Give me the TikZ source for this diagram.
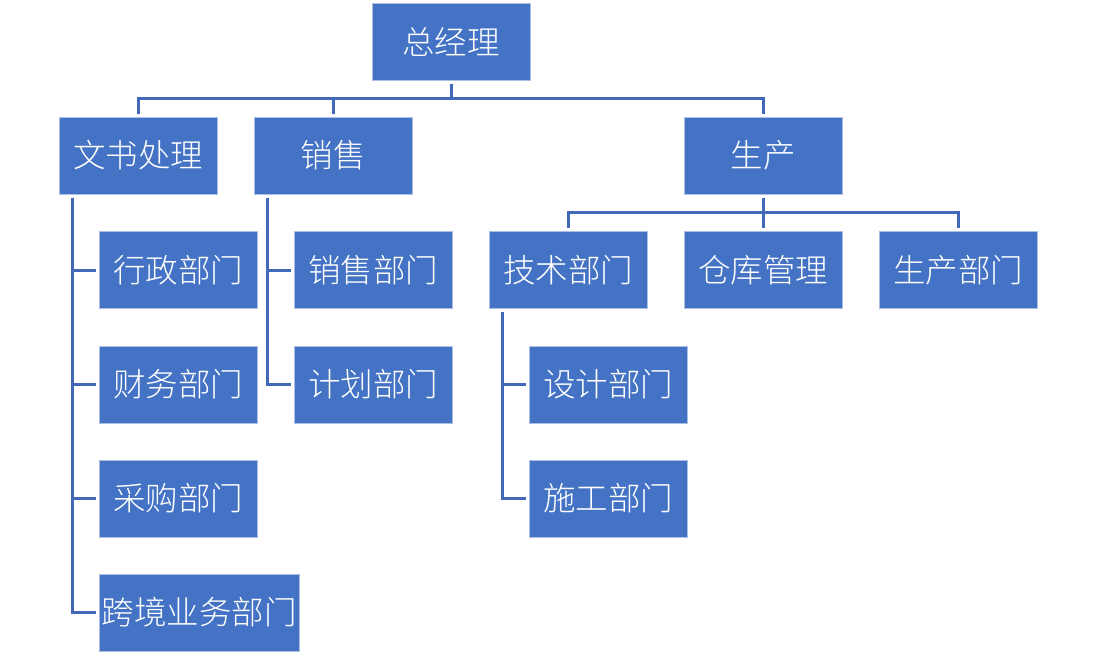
\documentclass[tikz,border=0pt]{standalone}
\usepackage{fontspec}
\newfontfamily\cjk{Noto Sans CJK SC Light}
\usetikzlibrary{calc}
\definecolor{boxblue}{HTML}{4472C4}
\definecolor{linkblue}{HTML}{4169B8}
\begin{document}
\begin{tikzpicture}[x=1pt,y=-1pt,
  box/.style={fill=boxblue,draw=white!55!boxblue,line width=1pt,minimum width=158pt,minimum height=77pt,inner sep=0pt,text=white,font=\cjk\fontsize{32.5}{38}\selectfont},
  conn/.style={draw=linkblue,line width=3pt,shorten <=3pt,shorten >=3pt}]
\useasboundingbox (0,0) rectangle (1096,656);
% level 0
\node[box] (zjl) at (451,41.5) {总经理};
% level 1
\node[box] (wszl) at (138,155.5) {文书处理};
\node[box] (xs) at (333,155.5) {销售};
\node[box] (sc) at (763,155.5) {生产};
% children of 文书处理
\node[box] (xz) at (178,270) {行政部门};
\node[box] (cw) at (178,384.5) {财务部门};
\node[box] (cg) at (178,498.5) {采购部门};
\node[box,minimum width=200pt] (kj) at (199,612.5) {跨境业务部门};
% children of 销售
\node[box] (xsbm) at (373,270) {销售部门};
\node[box] (jh) at (373,384.5) {计划部门};
% children of 生产
\node[box] (js) at (568,270) {技术部门};
\node[box] (ck) at (763,270) {仓库管理};
\node[box] (scbm) at (958,270) {生产部门};
% children of 技术部门
\node[box] (sj) at (608,384.5) {设计部门};
\node[box] (sg) at (608,498.5) {施工部门};
% top connectors
\coordinate (j0) at ($(zjl.south)!0.5!(zjl.south|-wszl.north)$);
\foreach \c in {wszl,xs,sc}{\draw[conn] (zjl.south) -- (j0) -| (\c.north);}
\coordinate (j1) at ($(sc.south)!0.5!(sc.south|-js.north)$);
\foreach \c in {js,ck,scbm}{\draw[conn] (sc.south) -- (j1) -| (\c.north);}
% side connectors
\foreach \c in {xz,cw,cg,kj}{\draw[conn] ([xshift=14pt]wszl.south west) |- (\c.west);}
\foreach \c in {xsbm,jh}{\draw[conn] ([xshift=14pt]xs.south west) |- (\c.west);}
\foreach \c in {sj,sg}{\draw[conn] ([xshift=14pt]js.south west) |- (\c.west);}
\end{tikzpicture}
\end{document}
